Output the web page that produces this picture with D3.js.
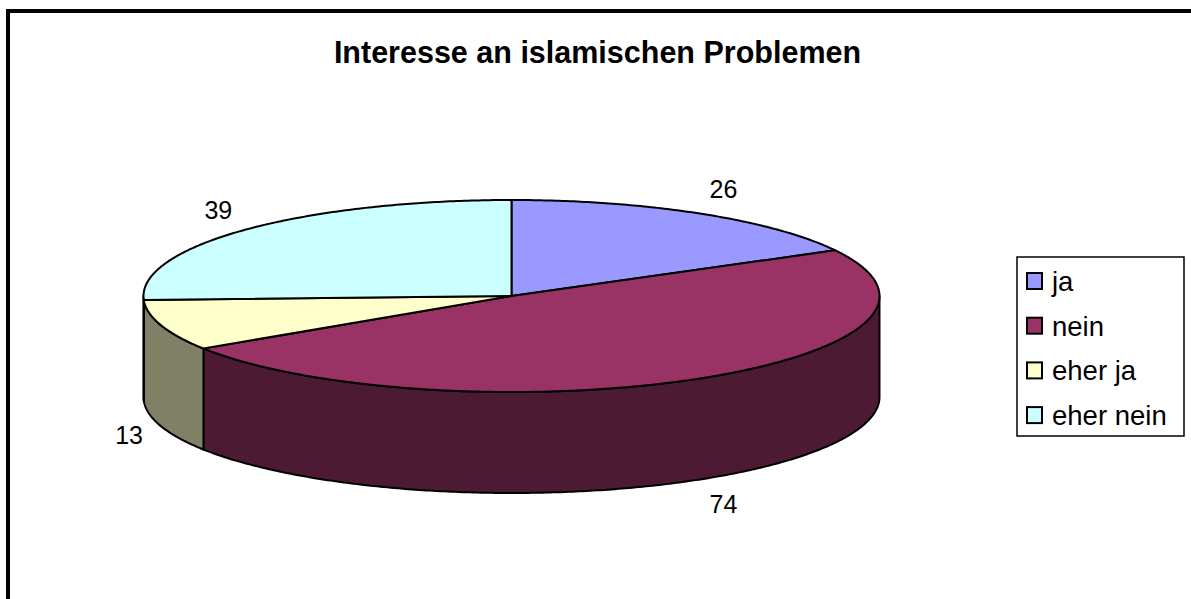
<!DOCTYPE html>
<html>
<head>
<meta charset="utf-8">
<script src="https://cdn.jsdelivr.net/npm/d3@7"></script>
<style>
  html, body { margin: 0; padding: 0; background: #fff; }
  svg { display: block; }
  text { font-family: "Liberation Sans", Arial, sans-serif; fill: #000; }
</style>
</head>
<body>
<svg id="chart" width="1191" height="599"></svg>
<script>
// Survey answers: interest in Islamic issues
const categories = ["ja", "nein", "eher ja", "eher nein"];
const values = [26, 74, 13, 39];
const topColors = ["#9999FF", "#993366", "#FFFFCC", "#CCFFFF"];
const sideColors = ["#4D4D80", "#4D1A33", "#808066", "#668080"];
const titleText = "Interesse an islamischen Problemen";

const svg = d3.select("#chart");
const W = 1191, H = 599;

// outer chart-area frame (right and bottom edges run past the page)
svg.append("rect")
  .attr("x", 8).attr("y", 11)
  .attr("width", W + 20).attr("height", H + 20)
  .attr("fill", "#fff").attr("stroke", "#000").attr("stroke-width", 4);

svg.append("text")
  .attr("x", 597.5).attr("y", 63)
  .attr("text-anchor", "middle")
  .attr("font-size", 30.5).attr("font-weight", "bold")
  .text(titleText);

// 3D pie geometry: angles measured clockwise from 12 o'clock
const cx = 511.5, cy = 296, rx = 368, ry = 96, depth = 101;
const pie = d3.pie().sort(null).startAngle(0).endAngle(2 * Math.PI);
const arcs = pie(values);
const fillTop = d3.scaleOrdinal().domain(categories).range(topColors);
const fillSide = d3.scaleOrdinal().domain(categories).range(sideColors);

const ex = a => cx + rx * Math.sin(a);
const ey = a => cy - ry * Math.cos(a);

function arcPoints(a0, a1, dy) {
  const n = Math.max(2, Math.ceil((a1 - a0) / 0.01));
  return d3.range(n + 1).map(i => {
    const a = a0 + (a1 - a0) * i / n;
    return [ex(a), ey(a) + dy];
  });
}
const line = d3.line();

const g = svg.append("g");

// visible rim (front half: angles between pi/2 and 3pi/2)
arcs.forEach((d, i) => {
  const a0 = Math.max(d.startAngle, Math.PI / 2);
  const a1 = Math.min(d.endAngle, 3 * Math.PI / 2);
  if (a1 <= a0) return;
  const pts = arcPoints(a0, a1, 0).concat(arcPoints(a0, a1, depth).reverse());
  g.append("path")
    .attr("d", line(pts) + "Z")
    .attr("fill", fillSide(categories[i]))
    .attr("stroke", "#000").attr("stroke-width", 2)
    .attr("stroke-linejoin", "round");
});

// top faces
arcs.forEach((d, i) => {
  const pts = [[cx, cy]].concat(arcPoints(d.startAngle, d.endAngle, 0));
  g.append("path")
    .attr("d", line(pts) + "Z")
    .attr("fill", fillTop(categories[i]))
    .attr("stroke", "#000").attr("stroke-width", 2)
    .attr("stroke-linejoin", "round");
});

// value labels outside the pie, anchored by their inner edge
const lrx = 387, lry = 124;
arcs.forEach((d, i) => {
  const m = (d.startAngle + d.endAngle) / 2;
  const s = Math.sin(m), c = Math.cos(m);
  const x = cx + lrx * s;
  const y = cy - lry * c + (c < 0 ? depth : 0);
  svg.append("text")
    .attr("x", x).attr("y", y + 9)
    .attr("text-anchor", s >= 0 ? "start" : "end")
    .attr("font-size", 25)
    .text(values[i]);
});

// legend
const lg = svg.append("g");
lg.append("rect")
  .attr("x", 1017).attr("y", 257)
  .attr("width", 167).attr("height", 179)
  .attr("fill", "#fff").attr("stroke", "#000").attr("stroke-width", 1.5);
categories.forEach((c, i) => {
  const by = 291 + i * 44.7;
  lg.append("rect")
    .attr("x", 1027).attr("y", by - 18)
    .attr("width", 15).attr("height", 16)
    .attr("fill", fillTop(c)).attr("stroke", "#000").attr("stroke-width", 2);
  lg.append("text")
    .attr("x", 1052).attr("y", by)
    .attr("font-size", 27.5)
    .text(c);
});
</script>
</body>
</html>
